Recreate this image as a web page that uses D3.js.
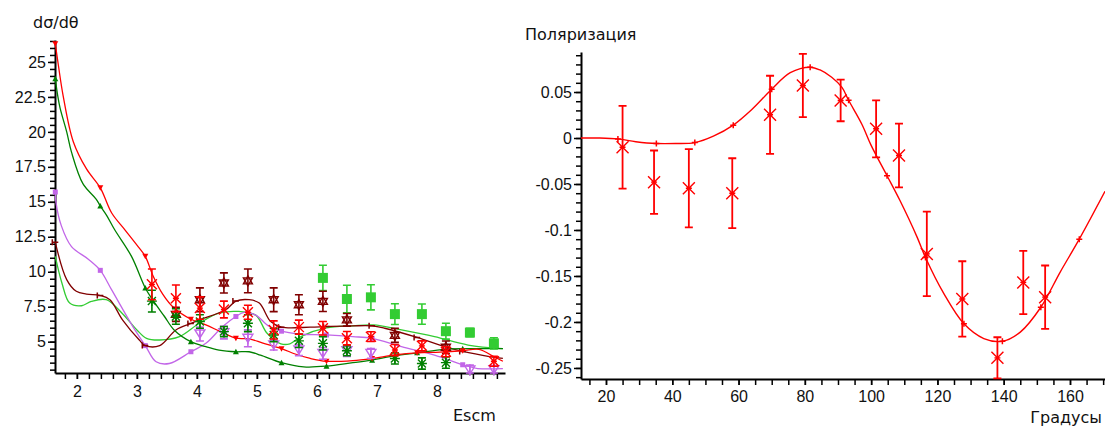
<!DOCTYPE html>
<html>
<head>
<meta charset="utf-8">
<script src="https://cdn.jsdelivr.net/npm/d3@7"></script>
<style>
  body { margin: 0; background: #fff; }
  svg { display: block; font-family: "DejaVu Sans", Verdana, sans-serif; }
  .axis text { font-size: 16px; fill: #111; }
  .axis .domain { stroke: #000; stroke-width: 2; }
  .axis line { stroke: #000; stroke-width: 1.5; }
  .lbl { font-size: 16px; fill: #111; }
</style>
</head>
<body>
<div id="vis"></div>
<script>
const WIDTH = 1105;
const HEIGHT = 426;

// ---- left chart: dσ/dθ vs Escm ----
const knotX = [1.64, 2.39, 3.14, 3.9, 4.65, 5.41, 6.16, 6.92, 7.67, 8.43];

// theory curves [Escm, value]
const redCurve = [[1.64,26.3],[1.69,24.8],[1.77,22.6],[1.94,19.3],[2.16,17.35],[2.39,16.0],[2.58,14.2],[2.8,13.0],[3.02,11.8],[3.14,11.1],[3.27,9.7],[3.43,8.4],[3.62,7.4],[3.9,6.6],[4.15,6.2],[4.4,5.7],[4.65,5.25],[4.87,5.2],[5.1,4.9],[5.41,4.5],[5.65,4.1],[5.89,3.8],[6.16,3.6],[6.6,3.65],[6.92,3.8],[7.3,4.05],[7.67,4.2],[8.05,4.25],[8.43,4.35],[8.7,4.45],[8.96,3.9],[9.1,3.6]];
const darkGreenCurve = [[1.64,23.8],[1.68,22.6],[1.72,21.7],[1.83,20.0],[1.91,18.55],[2.1,16.3],[2.32,15.2],[2.39,14.7],[2.5,14.0],[2.63,13.0],[2.91,11.1],[3.14,8.84],[3.26,8.0],[3.46,6.8],[3.62,5.84],[3.9,5.0],[4.15,4.64],[4.37,4.4],[4.65,4.28],[4.87,4.28],[5.06,4.04],[5.41,3.5],[5.78,3.2],[6.16,3.25],[6.6,3.5],[6.92,3.68],[7.3,4.0],[7.67,4.2],[8.13,4.45],[8.43,4.5],[9.1,4.5]];
const lightGreenCurve = [[1.64,11.1],[1.75,9.2],[1.88,7.76],[2.08,7.57],[2.24,7.88],[2.49,8.0],[2.76,7.0],[3.0,5.84],[3.16,5.24],[3.38,5.12],[3.71,5.36],[4.04,6.32],[4.37,7.04],[4.7,7.16],[4.98,6.9],[5.17,5.6],[5.4,4.85],[5.55,4.85],[5.75,5.4],[6.16,5.98],[6.6,6.13],[6.94,6.2],[7.41,5.84],[7.96,5.36],[8.52,4.76],[9.1,4.5]];
const purpleCurve = [[1.64,15.7],[1.65,15.0],[1.74,13.3],[1.91,11.8],[2.19,10.9],[2.39,10.1],[2.58,8.7],[2.93,6.1],[3.14,4.72],[3.32,3.56],[3.54,3.44],[3.9,4.28],[4.15,4.88],[4.43,6.08],[4.65,6.8],[4.79,7.1],[4.98,6.9],[5.2,6.1],[5.41,5.75],[5.7,5.55],[6.16,5.48],[6.6,5.36],[6.92,5.24],[7.41,4.64],[7.96,4.04],[8.43,3.35],[8.68,3.08],[9.1,3.08]];
const brownCurve = [[1.64,12.1],[1.83,9.44],[1.99,8.6],[2.16,8.4],[2.39,8.3],[2.55,8.0],[2.76,6.56],[3.04,5.12],[3.14,4.72],[3.38,4.72],[3.65,5.84],[3.9,6.3],[4.04,6.56],[4.48,7.28],[4.65,7.9],[4.87,8.0],[5.04,7.76],[5.23,6.44],[5.41,6.04],[5.89,6.04],[6.16,6.08],[6.6,6.13],[6.92,6.13],[7.13,5.96],[7.67,5.3],[8.13,4.64],[8.43,4.3],[8.9,3.92],[9.1,3.8]];

// experimental points: x, value, error
const redExpX = [3.25,3.65,4.05,4.45,4.85,5.28,5.7,6.1,6.5,6.9,7.3,7.75,8.15,8.95];
const redExpY = [9.1,8.1,7.4,7.3,7.1,5.84,6.04,5.96,5.25,5.36,4.4,4.7,4.28,3.6];
const redExpE = [1.1,0.95,0.8,0.6,0.5,0.65,0.5,0.48,0.48,0.35,0.4,0.36,0.36,0.36];

const brownExpX = [3.65,4.05,4.45,4.85,5.28,5.7,6.1,6.5,7.3,8.15];
const brownExpY = [6.95,8.0,9.2,9.35,8.0,7.64,7.88,6.56,5.45,4.6];
const brownExpE = [0.5,0.85,0.72,0.85,0.85,0.72,0.72,0.45,0.5,0.45];

const lgExpX = [6.1,6.5,6.9,7.3,7.75,8.15,8.55,8.95];
const lgExpY = [9.56,8.05,8.17,6.97,6.97,5.75,5.65,4.88];
const lgExpE = [0.9,0.98,0.9,0.74,0.72,0.57,0.3,0.4];

const dgExpX = [3.25,3.65,4.05,4.45,4.85,5.28,5.7,6.1,6.5,7.3,7.75,8.15];
const dgExpY = [7.9,6.8,6.44,5.72,6.32,5.48,5.06,4.88,4.35,3.8,3.44,3.5];
const dgExpE = [0.78,0.55,0.48,0.36,0.6,0.48,0.48,0.48,0.36,0.4,0.4,0.4];

const purpleExpX = [4.05,4.45,4.85,5.28,5.7,6.1,6.5,6.9,8.55,8.95];
const purpleExpY = [5.55,5.65,5.24,4.76,4.4,4.16,4.35,4.16,2.97,3.0];
const purpleExpE = [0.5,0.45,0.6,0.36,0.4,0.42,0.4,0.35,0.35,0.3];

const leftYTicks = [5, 7.5, 10, 12.5, 15, 17.5, 20, 22.5, 25];
const leftXTicks = [2, 3, 4, 5, 6, 7, 8];

// ---- right chart: Поляризация vs Градусы ----
const rightKnots = [23.6,35.2,46.8,58.4,70.0,81.6,93.2,104.8,116.4,128.0,139.6,151.2,162.8];
const polCurve = [[12.46,0],[18,0],[23.6,-0.001],[29,-0.004],[35.2,-0.006],[41,-0.006],[46.8,-0.005],[52.4,0.002],[58.4,0.014],[64,0.031],[70.0,0.053],[75.6,0.071],[81.6,0.077],[84.6,0.074],[88.1,0.066],[91.2,0.055],[93.2,0.041],[97.2,0.015],[100,-0.008],[104.8,-0.041],[108.7,-0.068],[113.9,-0.108],[116.4,-0.13],[121.9,-0.169],[128.0,-0.202],[134,-0.218],[139.6,-0.221],[145,-0.211],[151.2,-0.184],[157,-0.146],[162.8,-0.11],[170.56,-0.058]];
const polAngle = [25.0,34.5,45.0,58.1,69.5,79.4,90.8,101.5,108.4,116.8,127.5,138.1,145.9,152.5];
const polValue = [-0.010,-0.048,-0.0546,-0.060,0.0252,0.057,0.0408,0.010,-0.019,-0.126,-0.175,-0.239,-0.157,-0.173];
const polError = [0.045,0.0344,0.0426,0.038,0.0425,0.0344,0.0226,0.031,0.0346,0.046,0.041,0.0224,0.0344,0.0344];

const rightYTicks = [-0.25, -0.2, -0.15, -0.1, -0.05, 0, 0.05];
const rightXTicks = [20, 40, 60, 80, 100, 120, 140, 160];

const RED = '#ff0000', DGREEN = '#008000', LGREEN = '#33cc33', PURPLE = '#c266e8', BROWN = '#800000';

const SVG = d3.select('#vis').append('svg')
    .attr('width', WIDTH)
    .attr('height', HEIGHT);

// scales
const lx = d3.scaleLinear().domain([1.635, 9.135]).range([55, 505]);
const ly = d3.scaleLinear().domain([2.76, 26.57]).range([373, 40]);
const rx = d3.scaleLinear().domain([12.46, 170.56]).range([581, 1105]);
const ry = d3.scaleLinear().domain([-0.262, 0.0935]).range([379, 52]);

function range(a, b, step) {
    const out = [];
    for (let v = a; v <= b + step / 100; v += step) out.push(+v.toFixed(4));
    return out;
}

function drawAxes(xs, ys, yMajor, yMinorStep, xMajor, xMinorStep, xPad) {
    const g = SVG.append('g');
    const [y0, y1] = ys.domain();
    const [x0, x1] = xs.domain();
    // minor y ticks
    g.append('g').attr('class', 'axis')
        .attr('transform', `translate(${xs.range()[0]},0)`)
        .call(d3.axisLeft(ys).tickValues(range(Math.ceil(y0 / yMinorStep) * yMinorStep, y1, yMinorStep)).tickSize(5).tickSizeOuter(0).tickFormat(''))
        .select('.domain').remove();
    g.append('g').attr('class', 'axis')
        .attr('transform', `translate(${xs.range()[0]},0)`)
        .call(d3.axisLeft(ys).tickValues(yMajor).tickSize(7).tickSizeOuter(0).tickPadding(2).tickFormat(d => d));
    // x ticks
    g.append('g').attr('class', 'axis')
        .attr('transform', `translate(0,${ys.range()[0]})`)
        .call(d3.axisBottom(xs).tickValues(range(Math.ceil(x0 / xMinorStep) * xMinorStep, x1, xMinorStep)).tickSize(6).tickSizeOuter(0).tickFormat(''))
        .select('.domain').remove();
    g.append('g').attr('class', 'axis')
        .attr('transform', `translate(0,${ys.range()[0]})`)
        .call(d3.axisBottom(xs).tickValues(xMajor).tickSize(6).tickSizeOuter(0).tickPadding(xPad).tickFormat(d => d));
    return g;
}

drawAxes(lx, ly, leftYTicks, 0.5, leftXTicks, 0.2, 7);
drawAxes(rx, ry, rightYTicks, 0.01, rightXTicks, 5, 6);

SVG.append('text').attr('class', 'lbl').attr('x', 33).attr('y', 28).text('dσ/dθ');
SVG.append('text').attr('class', 'lbl').attr('x', 453).attr('y', 421).text('Escm');
SVG.append('text').attr('class', 'lbl').attr('x', 525).attr('y', 40).text('Поляризация');
SVG.append('text').attr('class', 'lbl').attr('x', 1102).attr('y', 423).attr('text-anchor', 'end').text('Градусы');

// ---- left curves ----
const leftPlot = SVG.append('g');
const leftLine = d3.line().x(d => lx(d[0])).y(d => ly(d[1])).curve(d3.curveCatmullRom.alpha(0.5));

const curves = [
    { data: lightGreenCurve, color: LGREEN, mark: null },
    { data: purpleCurve, color: PURPLE, mark: 'square' },
    { data: brownCurve, color: BROWN, mark: 'bar' },
    { data: darkGreenCurve, color: DGREEN, mark: 'tri' },
    { data: redCurve, color: RED, mark: 'tridown' }
];

curves.forEach(c => {
    leftPlot.append('path')
        .attr('d', leftLine(c.data))
        .attr('fill', 'none')
        .attr('stroke', c.color)
        .attr('stroke-width', 1.3);
    if (!c.mark) return;
    const pts = c.data.filter(d => knotX.includes(d[0]));
    const m = leftPlot.selectAll(null).data(pts).enter().append('g')
        .attr('transform', d => `translate(${lx(d[0])},${ly(d[1])})`);
    if (c.mark === 'square') m.append('rect').attr('x', -2.5).attr('y', -2.5).attr('width', 5).attr('height', 5).attr('fill', c.color);
    if (c.mark === 'tri') m.append('path').attr('d', 'M0,-3L3,2.5L-3,2.5Z').attr('fill', c.color);
    if (c.mark === 'tridown') m.append('path').attr('d', 'M-3,-2.5L3,-2.5L0,3Z').attr('fill', c.color);
    if (c.mark === 'bar') m.append('path').attr('d', 'M-3,-3V3M-3,0H3').attr('stroke', c.color).attr('stroke-width', 1.5);
});

// ---- left experimental points ----
const markers = {
    square: 'M-5,-5H5V5H-5Z',
    star: 'M-5,0H5M0,-5V5M-4,-4L4,4M-4,4L4,-4',
    cross: 'M-5,-5L5,5M-5,5L5,-5M-3,0H3',
    david: 'M0,-5L4.5,3L-4.5,3ZM0,5L4.5,-3L-4.5,-3Z',
    tridown: 'M-5,-4H5L0,4Z M0,-6V6'
};

function drawExp(xs, vals, errs, color, shape, filled) {
    const data = xs.map((x, i) => ({ x: x, y: vals[i], e: errs[i] }));
    const g = leftPlot.append('g');
    const pt = g.selectAll(null).data(data).enter().append('g');
    pt.append('path')
        .attr('d', d => {
            const px = lx(d.x), t = ly(d.y + d.e), b = Math.min(ly(d.y - d.e), 373);
            return `M${px},${t}V${b}M${px - 4},${t}H${px + 4}M${px - 4},${b}H${px + 4}`;
        })
        .attr('stroke', color).attr('stroke-width', 1.6).attr('fill', 'none');
    pt.append('path')
        .attr('transform', d => `translate(${lx(d.x)},${ly(d.y)})`)
        .attr('d', markers[shape])
        .attr('fill', filled ? color : 'none')
        .attr('stroke', color)
        .attr('stroke-width', filled ? 0 : 1.4);
}

drawExp(lgExpX, lgExpY, lgExpE, LGREEN, 'square', true);
drawExp(brownExpX, brownExpY, brownExpE, BROWN, 'david', false);
drawExp(purpleExpX, purpleExpY, purpleExpE, PURPLE, 'tridown', false);
drawExp(dgExpX, dgExpY, dgExpE, DGREEN, 'star', false);
drawExp(redExpX, redExpY, redExpE, RED, 'cross', false);

// ---- right chart ----
const rightPlot = SVG.append('g');
const rightLine = d3.line().x(d => rx(d[0])).y(d => ry(d[1])).curve(d3.curveCatmullRom.alpha(0.5));

rightPlot.append('path')
    .attr('d', rightLine(polCurve))
    .attr('fill', 'none')
    .attr('stroke', RED)
    .attr('stroke-width', 1.4);

rightPlot.selectAll(null)
    .data(polCurve.filter(d => rightKnots.includes(d[0])))
    .enter().append('path')
    .attr('transform', d => `translate(${rx(d[0])},${ry(d[1])})`)
    .attr('d', 'M-3,0H3M0,-3V3')
    .attr('stroke', RED).attr('stroke-width', 1.5);

const polPts = polAngle.map((a, i) => ({ x: a, y: polValue[i], e: polError[i] }));
const pp = rightPlot.selectAll(null).data(polPts).enter().append('g');
pp.append('path')
    .attr('d', d => {
        const px = rx(d.x), t = ry(d.y + d.e), b = Math.min(ry(d.y - d.e), 379);
        return `M${px},${t}V${b}M${px - 4},${t}H${px + 4}M${px - 4},${b}H${px + 4}`;
    })
    .attr('stroke', RED).attr('stroke-width', 1.8).attr('fill', 'none');
pp.append('path')
    .attr('transform', d => `translate(${rx(d.x)},${ry(d.y)})`)
    .attr('d', 'M-6,-6L6,6M-6,6L6,-6M-3,0H3')
    .attr('stroke', RED).attr('stroke-width', 1.4).attr('fill', 'none');
</script>
</body>
</html>
